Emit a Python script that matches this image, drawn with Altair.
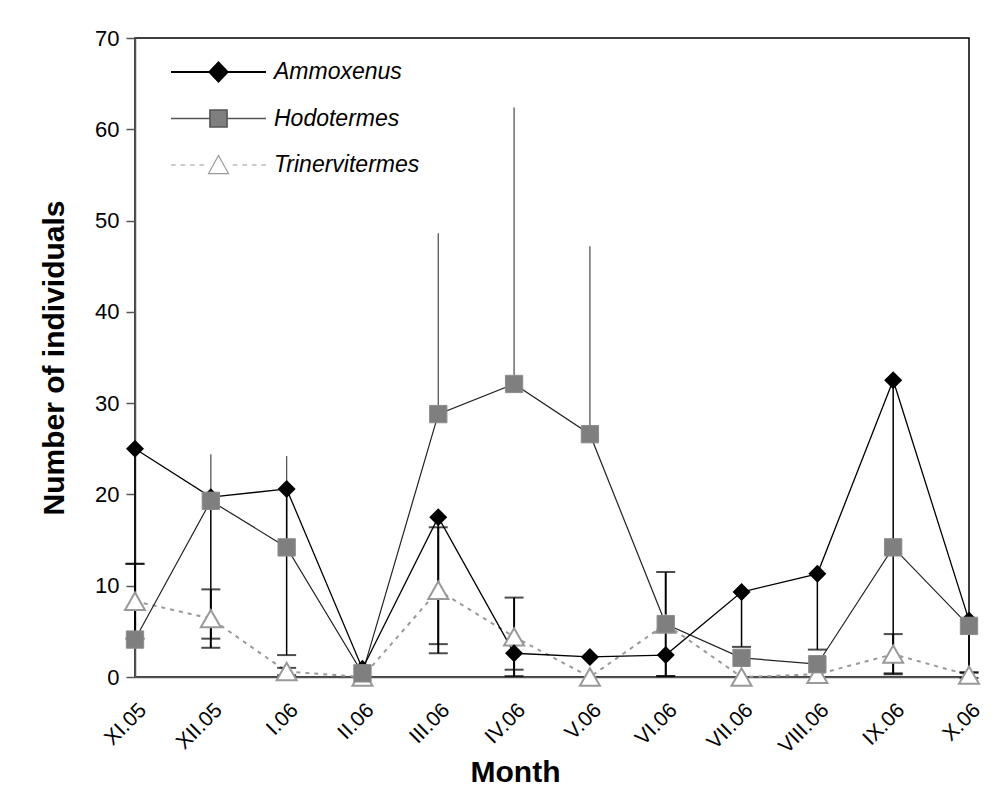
import altair as alt
import pandas as pd
import numpy as np

months = ["XI.05", "XII.05", "I.06", "II.06", "III.06", "IV.06", "V.06",
          "VI.06", "VII.06", "VIII.06", "IX.06", "X.06"]
species = ["Ammoxenus", "Hodotermes", "Trinervitermes"]

ammox_mean = [25.0, 19.7, 20.6, 0.9, 17.5, 2.6, 2.2, 2.4, 9.3, 11.3, 32.5, 6.2]
ammox_lower = [12.4, 4.2, 2.4, None, 3.6, 0.8, None, 0.1, 3.3, 3.0, 0.4, 0.5]

hodo_mean = [4.1, 19.3, 14.2, 0.4, 28.8, 32.1, 26.6, 5.8, 2.1, 1.4, 14.2, 5.6]
hodo_upper = [None, 24.4, 24.2, None, 48.6, 62.4, 47.2, None, None, None, None, None]

trin_mean = [8.3, 6.4, 0.6, 0.0, 9.5, 4.4, 0.0, 5.8, 0.0, 0.3, 2.5, 0.2]
trin_err = [4.1, 3.2, 0.4, None, 6.9, 4.3, None, 5.7, None, None, 2.2, 0.3]

FONT = "Liberation Sans"

df_a = pd.DataFrame({"month": months, "v": ammox_mean, "lo": ammox_lower})
df_h = pd.DataFrame({"month": months, "v": hodo_mean, "hi": hodo_upper})
df_t = pd.DataFrame({"month": months, "v": trin_mean, "e": trin_err})
df_t["lo"] = df_t["v"] - df_t["e"]
df_t["hi"] = df_t["v"] + df_t["e"]

df_all = pd.concat([
    pd.DataFrame({"month": months, "v": ammox_mean, "species": species[0]}),
    pd.DataFrame({"month": months, "v": hodo_mean, "species": species[1]}),
    pd.DataFrame({"month": months, "v": trin_mean, "species": species[2]}),
])

x_axis = alt.Axis(title="Month", labelAngle=-45, ticks=False, labelPadding=22,
                  labelFontSize=21, labelFont=FONT, labelColor="black",
                  titleFont=FONT, titleFontSize=30, titleFontWeight="bold",
                  titleColor="black", titleX=380, titleY=104,
                  titleBaseline="alphabetic", domainColor="#555",
                  domainWidth=1.5, grid=False)
y_axis = alt.Axis(title="Number of individuals", values=list(range(0, 71, 10)),
                  tickSize=9, tickColor="#555", tickWidth=1.5,
                  labelPadding=7, labelFontSize=22, labelFont=FONT,
                  labelColor="black", titleFont=FONT, titleFontSize=30,
                  titleFontWeight="bold", titleColor="black", titlePadding=25,
                  domainColor="#555", domainWidth=1.5, grid=False)

X = alt.X("month:N", sort=months, scale=alt.Scale(type="point", padding=0, domain=months), axis=x_axis)
ysc = alt.Scale(domain=[0, 70])


def Y(field):
    return alt.Y(f"{field}:Q", scale=ysc, axis=y_axis)


base_a = alt.Chart(df_a)
base_h = alt.Chart(df_h)
base_t = alt.Chart(df_t)

line_t = base_t.mark_line(color="#999", strokeDash=[4, 5], strokeWidth=2).encode(x=X, y=Y("v"))
line_h = base_h.mark_line(color="#222", strokeWidth=1.2).encode(x=X, y=Y("v"))
line_a = base_a.mark_line(color="black", strokeWidth=1.3).encode(x=X, y=Y("v"))

err_h = base_h.transform_filter("isValid(datum.hi)").mark_rule(color="#555", strokeWidth=1.3).encode(
    x=X, y=Y("v"), y2="hi:Q")
err_a = base_a.transform_filter("isValid(datum.lo)").mark_rule(color="black", strokeWidth=1.5).encode(
    x=X, y=Y("lo"), y2="v:Q")
cap_a = base_a.transform_filter("isValid(datum.lo)").mark_tick(color="black", thickness=2, size=19).encode(
    x=X, y=Y("lo"))
err_t = base_t.transform_filter("isValid(datum.e)").mark_rule(color="black", strokeWidth=2).encode(
    x=X, y=Y("lo"), y2="hi:Q")
cap_t_lo = base_t.transform_filter("isValid(datum.e)").mark_tick(color="black", thickness=2, size=19).encode(
    x=X, y=Y("lo"))
cap_t_hi = base_t.transform_filter("isValid(datum.e)").mark_tick(color="black", thickness=2, size=19).encode(
    x=X, y=Y("hi"))

pts_t = base_t.mark_point(shape="triangle-up", size=400, fill="white", fillOpacity=1,
                          stroke="#999", strokeWidth=2, opacity=1).encode(x=X, y=Y("v"))
pts_a = base_a.mark_point(shape="diamond", size=324, filled=True, color="black", opacity=1).encode(
    x=X, y=Y("v"))
pts_h = base_h.mark_point(shape="square", size=300, fill="#7f7f7f", fillOpacity=1,
                          stroke="#8c8c8c", strokeWidth=1, opacity=1).encode(x=X, y=Y("v"))

path_a = "M-1,0L-0.19,0M0.19,0L1,0M-0.19,0L0,-0.2L0.19,0L0,0.2Z"
path_h = "M-1,0L-0.18,0M0.18,0L1,0M-0.18,-0.18L0.18,-0.18L0.18,0.18L-0.18,0.18Z"
path_t = ("M-1,0L-0.9,0M-0.8,0L-0.7,0M-0.6,0L-0.5,0M-0.4,0L-0.3,0"
          "M0.3,0L0.4,0M0.5,0L0.6,0M0.7,0L0.8,0M0.9,0L1,0"
          "M0,-0.2L0.21,0.18L-0.21,0.18Z")

leg = alt.Legend(title=None, orient="none", legendX=35, legendY=19, padding=0,
                 clipHeight=30, rowPadding=16.5, symbolSize=9025, symbolOpacity=1,
                 labelFont=FONT, labelFontSize=23, labelFontStyle="italic",
                 labelColor="black", labelOffset=7)

legend_layer = alt.Chart(df_all).mark_point(opacity=0).encode(
    x=X, y=Y("v"),
    shape=alt.Shape("species:N", scale=alt.Scale(domain=species, range=[path_a, path_h, path_t]), legend=leg),
    fill=alt.Fill("species:N", scale=alt.Scale(domain=species, range=["black", "#7f7f7f", "white"]), legend=leg),
    stroke=alt.Stroke("species:N", scale=alt.Scale(domain=species, range=["black", "#555", "#999"]), legend=leg),
    strokeWidth=alt.StrokeWidth("species:N", scale=alt.Scale(domain=species, range=[2, 1.2, 1.6]), legend=leg),
)

chart = alt.layer(
    line_t, line_h, line_a, err_h, err_a, cap_a, err_t, cap_t_lo, cap_t_hi,
    pts_t, pts_a, pts_h, legend_layer
).properties(
    width=834, height=639,
    padding={"left": 127, "top": 30, "right": 16, "bottom": 110},
    autosize=alt.AutoSizeParams(type="none"),
    background="white",
).configure_view(stroke="black", strokeWidth=1.5)

chart.save("out.html", embed_options={"renderer": "svg", "actions": False})
